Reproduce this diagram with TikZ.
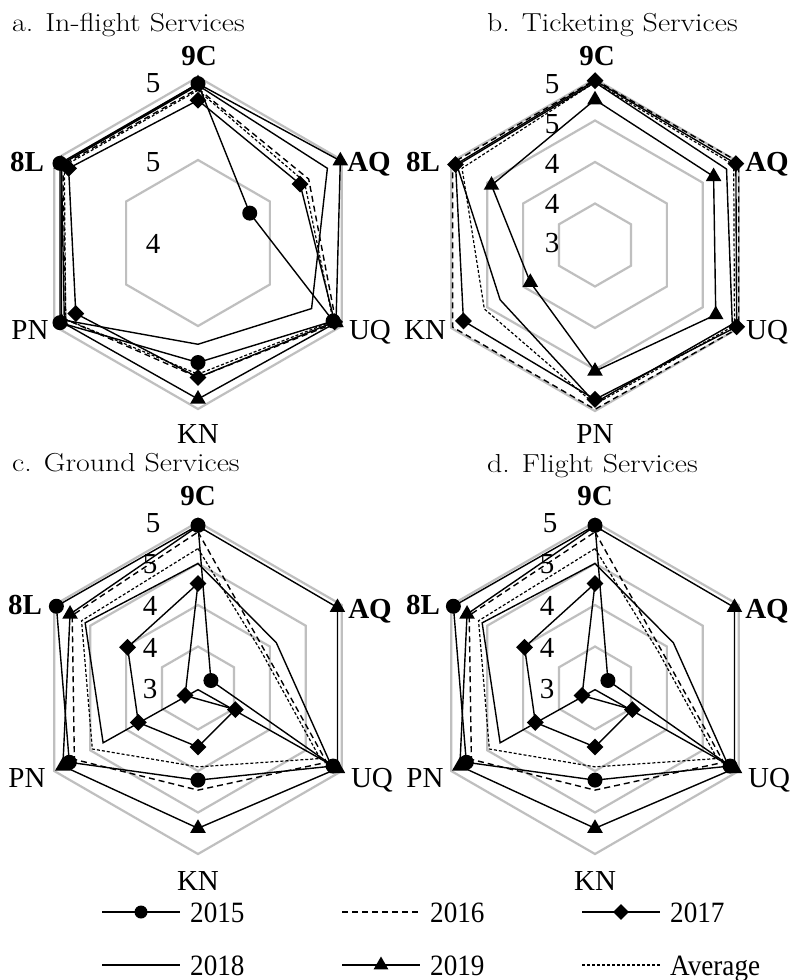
\documentclass[tikz,border=0pt]{standalone}
\usepackage{fontspec}
\newfontfamily\lib{Liberation Serif}
\usetikzlibrary{shapes.geometric,calc}
\tikzset{
  ringline/.style={draw=black!25, line width=2.2pt, line join=miter},
  ser/.style={draw=black, line width=1.4pt, line join=miter},
  s16/.style={ser, dash pattern=on 6pt off 4pt},
  savg/.style={ser, line width=1.2pt, dash pattern=on 3pt off 2pt},
  mcirc/.style={circle, fill=black, inner sep=0pt, minimum size=15pt},
  mdiam/.style={diamond, fill=black, inner sep=0pt, minimum size=17pt},
  mtri/.style={regular polygon, regular polygon sides=3, fill=black, inner sep=0pt, minimum size=18pt},
  lcirc/.style={circle, fill=black, inner sep=0pt, minimum size=13pt},
  ldiam/.style={diamond, fill=black, inner sep=0pt, minimum size=16pt},
  ltri/.style={regular polygon, regular polygon sides=3, fill=black, inner sep=0pt, minimum size=17pt},
  axlab/.style={font=\lib\fontsize{29}{29}\selectfont, anchor=base, inner sep=0pt},
  axlabb/.style={axlab, font=\lib\bfseries\fontsize{29}{29}\selectfont},
  titl/.style={anchor=base west, inner sep=0pt, font=\fontsize{26}{26}\selectfont},
  legt/.style={anchor=base west, inner sep=0pt, font=\lib\fontsize{29.5}{29.5}\selectfont},
}
% #1 name prefix, #2 line style, #3 marker style (may be empty), #4 six values
\newcommand\rpoly[4]{%
  \foreach \v [count=\i] in {#4} {\coordinate (#1-p\i) at ({-150+60*\i}:{(\v-\rmin)*\rsc});}
  \draw[#2] (#1-p1)--(#1-p2)--(#1-p3)--(#1-p4)--(#1-p5)--(#1-p6)--cycle;
  \ifx\relax#3\relax\else
    \foreach \i in {1,...,6} {\node[#3] (#1-m\i) at (#1-p\i) {};}
  \fi
}
\newcommand\rring[1]{%
  \draw[ringline] (-90:#1)--(-30:#1)--(30:#1)--(90:#1)--(150:#1)--(210:#1)--cycle;
}
\newcommand\hx[1]{\scalebox{0.92}[1]{#1}}
\newcommand\tx[1]{\scalebox{1.15}[1]{#1}}
\begin{document}
\begin{tikzpicture}[x=1pt,y=-1pt]
\fill[white] (0,0) rectangle (797,980);
\useasboundingbox (0,0) rectangle (797,980);

% ---------------- a. In-flight Services
\begin{scope}[shift={(198,243)}]
\def\rmin{4}\def\rsc{166}
\rring{83}\rring{166}
\rpoly{a15}{ser}{mcirc}{4.96,4.36,4.94,4.72,4.96,4.96}
\rpoly{a16}{s16}{}{4.93,4.77,4.96,4.81,4.92,4.94}
\rpoly{a17}{ser}{mdiam}{4.86,4.71,4.95,4.81,4.85,4.90}
\rpoly{a18}{ser}{}{4.95,4.90,4.79,4.61,4.93,4.95}
\rpoly{a19}{ser}{mtri}{4.96,4.99,4.96,4.94,4.95,4.95}
\rpoly{aav}{savg}{}{4.92,4.74,4.94,4.79,4.92,4.93}
\end{scope}
\node[titl] (ta) at (12,31) {\tx{a. In-flight Services}};
\node[axlabb] (a9C) at (199,65) {9C};
\node[axlabb] (aAQ) at (369,171) {AQ};
\node[axlab] (aUQ) at (370,339) {UQ};
\node[axlab] (aKN) at (198,443) {KN};
\node[axlab] (aPN) at (30,339) {PN};
\node[axlabb] (a8L) at (27,171) {8L};
\node[axlab] (at1) at (153,92) {5};
\node[axlab] (at2) at (153,171) {5};
\node[axlab] (at3) at (153,253) {4};

% ---------------- b. Ticketing Services
\begin{scope}[shift={(595,245)}]
\def\rmin{3}\def\rsc{83}
\rring{41.5}\rring{83}\rring{124.5}\rring{166}
\rpoly{b16}{s16}{}{4.99,5.00,5.00,4.98,4.98,4.98}
\rpoly{b17}{ser}{mdiam}{4.98,4.96,4.97,4.86,4.83,4.94}
\rpoly{b18}{ser}{}{4.96,4.83,4.91,4.90,4.32,4.92}
\rpoly{b19}{ser}{mtri}{4.75,4.65,4.68,4.52,3.90,4.44}
\rpoly{bav}{savg}{}{4.96,4.93,4.94,4.92,4.54,4.85}
\end{scope}
\node[titl] (tb) at (487,31) {\tx{b. Ticketing Services}};
\node[axlabb] (b9C) at (597,65) {9C};
\node[axlabb] (bAQ) at (767,171) {AQ};
\node[axlab] (bUQ) at (767,339) {UQ};
\node[axlab] (bPN) at (595,443) {PN};
\node[axlab] (bKN) at (425,339) {KN};
\node[axlabb] (b8L) at (423,171) {8L};
\node[axlab] (bt1) at (552,93) {5};
\node[axlab] (bt2) at (552,133) {5};
\node[axlab] (bt3) at (552,173) {4};
\node[axlab] (bt4) at (552,213) {4};
\node[axlab] (bt5) at (552,252) {3};

% ---------------- c. Ground Services
\begin{scope}[shift={(198,688)}]
\def\rmin{3}\def\rsc{83}
\rring{41.5}\rring{83}\rring{124.5}\rring{166}
\rpoly{c15}{ser}{mcirc}{4.96,3.18,4.88,4.11,4.79,4.97}
\rpoly{c16}{s16}{}{4.88,3.92,4.79,4.23,4.72,4.75}
\rpoly{c17}{ser}{mdiam}{4.26,2.82,3.52,3.71,3.83,3.98}
\rpoly{c18}{ser}{}{4.50,4.09,4.85,3.02,4.32,4.57}
\rpoly{c19}{ser}{mtri}{4.95,4.94,4.94,4.69,4.88,4.78}
\rpoly{cav}{savg}{}{4.68,3.88,4.70,3.95,4.47,4.62}
\end{scope}
\node[titl] (tc) at (12,471) {\tx{c. Ground Services}};
\node[axlabb] (c9C) at (198,505) {9C};
\node[axlabb] (cAQ) at (370,618) {AQ};
\node[axlab] (cUQ) at (372,787) {UQ};
\node[axlab] (cKN) at (198,890) {KN};
\node[axlab] (cPN) at (27,787) {PN};
\node[axlabb] (c8L) at (25,614) {8L};
\node[axlab] (ct1) at (153,532) {5};
\node[axlab] (ct2) at (150,573) {5};
\node[axlab] (ct3) at (150,615) {4};
\node[axlab] (ct4) at (150,657) {4};
\node[axlab] (ct5) at (150,698) {3};

% ---------------- d. Flight Services
\begin{scope}[shift={(595,688)}]
\def\rmin{3}\def\rsc{83}
\rring{41.5}\rring{83}\rring{124.5}\rring{166}
\rpoly{d15}{ser}{mcirc}{4.96,3.18,4.88,4.11,4.79,4.97}
\rpoly{d16}{s16}{}{4.88,3.92,4.79,4.23,4.72,4.75}
\rpoly{d17}{ser}{mdiam}{4.26,2.82,3.52,3.71,3.83,3.98}
\rpoly{d18}{ser}{}{4.50,4.09,4.85,3.02,4.32,4.57}
\rpoly{d19}{ser}{mtri}{4.95,4.94,4.94,4.69,4.88,4.78}
\rpoly{dav}{savg}{}{4.68,3.88,4.70,3.95,4.47,4.62}
\end{scope}
\node[titl] (td) at (487,472) {\tx{d. Flight Services}};
\node[axlabb] (d9C) at (595,505) {9C};
\node[axlabb] (dAQ) at (767,618) {AQ};
\node[axlab] (dUQ) at (769,787) {UQ};
\node[axlab] (dKN) at (595,890) {KN};
\node[axlab] (dPN) at (425,787) {PN};
\node[axlabb] (d8L) at (423,614) {8L};
\node[axlab] (dt1) at (550,532) {5};
\node[axlab] (dt2) at (547,573) {5};
\node[axlab] (dt3) at (547,615) {4};
\node[axlab] (dt4) at (547,657) {4};
\node[axlab] (dt5) at (547,698) {3};

% ---------------- legend
\coordinate (l1a) at (102,912); \coordinate (l1b) at (180,912);
\coordinate (l2a) at (342,912); \coordinate (l2b) at (420,912);
\coordinate (l3a) at (582,912); \coordinate (l3b) at (660,912);
\coordinate (l4a) at (102,965); \coordinate (l4b) at (180,965);
\coordinate (l5a) at (342,965); \coordinate (l5b) at (420,965);
\coordinate (l6a) at (582,965); \coordinate (l6b) at (660,965);
\draw[ser] (l1a) -- (l1b); \node[lcirc] (lm1) at ($(l1a)!0.5!(l1b)$) {};
\draw[s16] (l2a) -- (l2b);
\draw[ser] (l3a) -- (l3b); \node[ldiam] (lm3) at ($(l3a)!0.5!(l3b)$) {};
\draw[ser] (l4a) -- (l4b);
\draw[ser] (l5a) -- (l5b); \node[ltri] (lm5) at ($(l5a)!0.5!(l5b)$) {};
\draw[savg] (l6a) -- (l6b);
\node[legt] (lt1) at (190,922) {\hx{2015}};
\node[legt] (lt2) at (430,922) {\hx{2016}};
\node[legt] (lt3) at (670,922) {\hx{2017}};
\node[legt] (lt4) at (190,975) {\hx{2018}};
\node[legt] (lt5) at (430,975) {\hx{2019}};
\node[legt] (lt6) at (670,975) {\hx{Average}};
\end{tikzpicture}
\end{document}
